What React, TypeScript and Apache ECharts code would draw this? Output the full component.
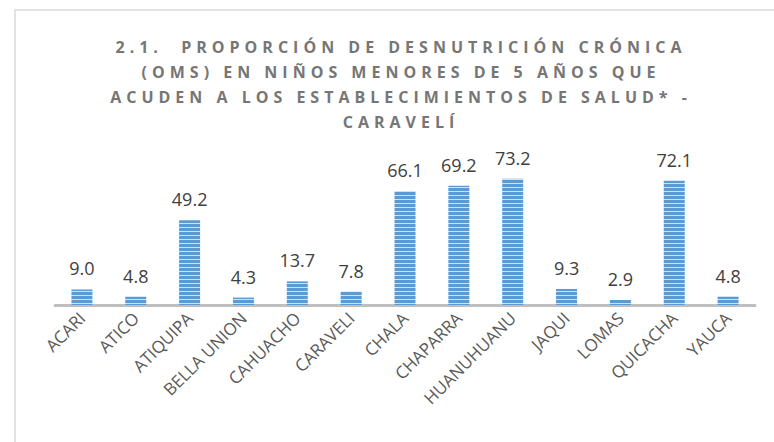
import React, { useEffect, useRef } from "react";
import * as echarts from "echarts";

const categories = ["ACARI", "ATICO", "ATIQUIPA", "BELLA UNION", "CAHUACHO", "CARAVELI", "CHALA", "CHAPARRA", "HUANUHUANU", "JAQUI", "LOMAS", "QUICACHA", "YAUCA"];
const values = [9.0, 4.8, 49.2, 4.3, 13.7, 7.8, 66.1, 69.2, 73.2, 9.3, 2.9, 72.1, 4.8];
const titleLines = [
  "2.1.  PROPORCIÓN DE DESNUTRICIÓN CRÓNICA",
  "(OMS) EN NIÑOS MENORES DE 5 AÑOS QUE",
  "ACUDEN A LOS ESTABLECIMIENTOS DE SALUD* -",
  "CARAVELÍ",
];

function stripePattern(): string {
  const c = document.createElement("canvas");
  c.width = 4;
  c.height = 4;
  const ctx = c.getContext("2d")!;
  ctx.fillStyle = "#5B9BD5";
  ctx.fillRect(0, 0, 4, 4);
  ctx.fillStyle = "#CFE1F3";
  ctx.fillRect(0, 3, 4, 1);
  return c.toDataURL();
}

export default function App() {
  const ref = useRef<HTMLDivElement>(null);
  useEffect(() => {
    if (!ref.current) return;
    const chart = echarts.init(ref.current, undefined, { renderer: "svg" });
    const pattern = { image: stripePattern(), repeat: "repeat" } as any;
    const titleX = 401;
    const titleY0 = 47;
    const lineGap = 25;
    chart.setOption({
      animation: false,
      backgroundColor: "#ffffff",
      graphic: [
        {
          type: "rect",
          shape: { x: 15, y: 10, width: 800, height: 500 },
          style: { fill: "none", stroke: "#d9d9d9", lineWidth: 1.5 },
          silent: true,
        },
        ...titleLines.map((t, i) => ({
          type: "text",
          x: titleX,
          y: titleY0 + i * lineGap,
          style: {
            text: t,
            fill: "#767676",
            font: 'bold 16px "Open Sans"',
            textAlign: "center",
            textVerticalAlign: "middle",
          },
          silent: true,
        })),
      ],
      grid: { left: 55, right: 19, top: 167, bottom: 137 },
      xAxis: {
        type: "category",
        data: categories,
        axisLine: { show: true, lineStyle: { color: "#bfbfbf", width: 3 } },
        axisTick: { show: false },
        axisLabel: {
          interval: 0,
          rotate: 45,
          color: "#595959",
          fontFamily: "Open Sans",
          fontSize: 17,
          margin: 10,
        },
      },
      yAxis: {
        type: "value",
        min: 0,
        max: 80,
        show: false,
        splitLine: { show: false },
      },
      series: [
        {
          type: "bar",
          data: values,
          barWidth: 21,
          itemStyle: { color: pattern },
          label: {
            show: true,
            position: "top",
            distance: 12,
            formatter: (p: any) => Number(p.value).toFixed(1),
            color: "#404040",
            fontFamily: "Open Sans",
            fontSize: 18,
          },
        },
      ],
    });
    const applySpacing = () => {
      const texts = ref.current?.querySelectorAll("text");
      texts?.forEach((el) => {
        if (titleLines.includes((el.textContent || "").trim())) {
          el.setAttribute("letter-spacing", "5px");
        }
      });
    };
    applySpacing();
    chart.on("finished", applySpacing);
    return () => chart.dispose();
  }, []);
  return <div ref={ref} style={{ width: 774, height: 442, position: "absolute", left: 0, top: 0 }} />;
}
